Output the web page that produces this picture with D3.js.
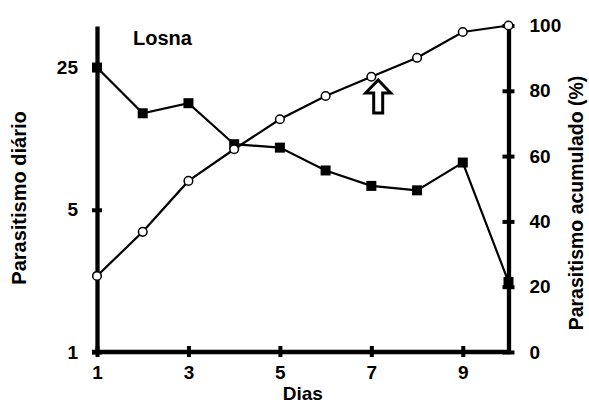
<!DOCTYPE html>
<html>
<head>
<meta charset="utf-8">
<script src="https://cdn.jsdelivr.net/npm/d3@7"></script>
<style>
  body { margin: 0; background: #fff; }
  text { font-family: "Liberation Sans", Arial, sans-serif; font-weight: bold; fill: #000; }
</style>
</head>
<body>
<div id="chart"></div>
<script>
// Data
const dias = [1, 2, 3, 4, 5, 6, 7, 8, 9, 10];
const diario = [25, 14.9, 16.7, 10.5, 10.1, 7.8, 6.55, 6.23, 8.53, 2.21];
const acumulado = [23.3, 36.8, 52.4, 62.1, 71.3, 78.4, 84.3, 90.1, 98, 100];
const xTicks = [1, 3, 5, 7, 9];
const leftTicks = [1, 5, 25];
const rightTicks = [0, 20, 40, 60, 80, 100];
// arrow annotation (day, top and bottom on the right scale)
const arrowDay = 7.15, arrowTop = 83.3, arrowBottom = 73.2;

// Margin Convention
let margin = {top: 26, right: 80.5, bottom: 54, left: 97};
let width = 589 - margin.left - margin.right;
let height = 406 - margin.top - margin.bottom;

let xScale = d3.scaleLinear().domain([1, 10]).range([0, width]);
let yLeft = d3.scaleLog().domain([1, 40]).range([height, 0]);
let yRight = d3.scaleLinear().domain([0, 100]).range([height, -0.5]);

let svg = d3.select('#chart').append('svg')
    .attr('width', 589)
    .attr('height', 406)
  .append('g')
    .attr('transform', 'translate(' + margin.left + ',' + margin.top + ')');

function styleAxis(g) {
  g.select('.domain').attr('stroke', '#000').attr('stroke-width', 4.3);
  g.selectAll('.tick line').attr('stroke', '#000').attr('stroke-width', 4);
  g.selectAll('.tick text').style('font-size', '19px');
}

// left axis (log)
svg.append('g')
    .call(d3.axisLeft(yLeft).tickValues(leftTicks).tickFormat(d3.format('d')).tickSizeOuter(0))
    .call(styleAxis)
    .call(g => g.selectAll('.tick line').attr('x1', -5).attr('x2', 5))
    .call(g => g.selectAll('.tick text').attr('x', -19));

// right axis
svg.append('g')
    .attr('transform', 'translate(' + width + ',0)')
    .call(d3.axisRight(yRight).tickValues(rightTicks).tickSizeOuter(0))
    .call(styleAxis)
    .call(g => g.selectAll('.tick line').attr('x1', -6).attr('x2', 6))
    .call(g => g.selectAll('.tick text').attr('x', 21));

// bottom axis
svg.append('g')
    .attr('transform', 'translate(0,' + height + ')')
    .call(d3.axisBottom(xScale).tickValues(xTicks).tickSizeOuter(0))
    .call(styleAxis)
    .call(g => g.select('.domain').attr('d', 'M-5,0H' + (width + 2)))
    .call(g => g.selectAll('.tick line').attr('y1', -6).attr('y2', 5))
    .call(g => g.selectAll('.tick text').attr('y', 14));

// daily series (squares)
let lineDaily = d3.line()
    .x((d, i) => xScale(dias[i]))
    .y(d => yLeft(d));

svg.append('path')
    .datum(diario)
    .attr('fill', 'none')
    .attr('stroke', '#000')
    .attr('stroke-width', 2.2)
    .attr('d', lineDaily);

svg.selectAll('.sq')
    .data(diario)
    .enter().append('rect')
    .attr('class', 'sq')
    .attr('x', (d, i) => xScale(dias[i]) - 5)
    .attr('y', d => yLeft(d) - 5)
    .attr('width', 10)
    .attr('height', 10)
    .attr('fill', '#000');

// cumulative series (open circles)
let lineCum = d3.line()
    .x((d, i) => xScale(dias[i]))
    .y(d => yRight(d));

svg.append('path')
    .datum(acumulado)
    .attr('fill', 'none')
    .attr('stroke', '#000')
    .attr('stroke-width', 2.2)
    .attr('d', lineCum);

svg.selectAll('.dot')
    .data(acumulado)
    .enter().append('circle')
    .attr('class', 'dot')
    .attr('cx', (d, i) => xScale(dias[i]))
    .attr('cy', d => yRight(d))
    .attr('r', 4.3)
    .attr('fill', '#fff')
    .attr('stroke', '#000')
    .attr('stroke-width', 1.5);

// arrow
let ax = xScale(arrowDay), at = yRight(arrowTop), ab = yRight(arrowBottom);
let headH = 13, headW = 12.5, shaftW = 4.5;
svg.append('path')
    .attr('d', 'M' + ax + ',' + at +
      'L' + (ax + headW) + ',' + (at + headH) +
      'L' + (ax + shaftW) + ',' + (at + headH) +
      'L' + (ax + shaftW) + ',' + ab +
      'L' + (ax - shaftW) + ',' + ab +
      'L' + (ax - shaftW) + ',' + (at + headH) +
      'L' + (ax - headW) + ',' + (at + headH) + 'Z')
    .attr('fill', '#fff')
    .attr('stroke', '#000')
    .attr('stroke-width', 3)
    .attr('stroke-linejoin', 'miter');

// labels
svg.append('text')
    .attr('x', 133 - margin.left)
    .attr('y', 45 - margin.top)
    .style('font-size', '20px')
    .text('Losna');

svg.append('text')
    .attr('x', xScale(5.5))
    .attr('y', 400 - margin.top)
    .attr('text-anchor', 'middle')
    .style('font-size', '19px')
    .text('Dias');

svg.append('text')
    .attr('transform', 'translate(' + (26 - margin.left) + ',' + (198 - margin.top) + ') rotate(-90)')
    .attr('text-anchor', 'middle')
    .style('font-size', '20px')
    .text('Parasitismo diário');

svg.append('text')
    .attr('transform', 'translate(' + (583 - margin.left) + ',' + (203 - margin.top) + ') rotate(-90)')
    .attr('text-anchor', 'middle')
    .style('font-size', '19.5px')
    .text('Parasitismo acumulado (%)');
</script>
</body>
</html>
